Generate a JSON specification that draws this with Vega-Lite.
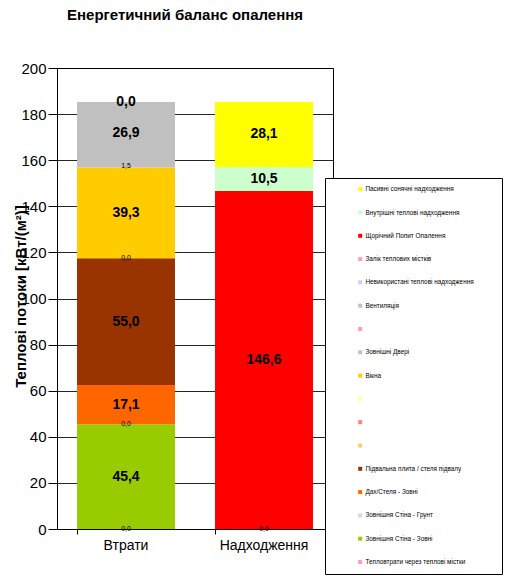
{
  "$schema": "https://vega.github.io/schema/vega-lite/v6.json",
  "autosize": {"type": "none"},
  "padding": {"left": 57, "top": 68, "right": 185, "bottom": 50},
  "width": 276,
  "height": 461,
  "background": "white",
  "title": {
    "text": "Енергетичний баланс опалення",
    "anchor": "start",
    "frame": "group",
    "dx": 10,
    "offset": 26,
    "baseline": "alphabetic",
    "font": "Liberation Sans",
    "fontSize": 15,
    "fontWeight": "bold",
    "color": "black"
  },
  "config": {
    "locale": {"number": {"decimal": ",", "thousands": " ", "grouping": [3], "currency": ["", ""]}},
    "view": {"stroke": "black", "strokeWidth": 1},
    "font": "Liberation Sans"
  },
  "data": {
    "values": [
      {"group": "Втрати", "series": "Тепловтрати через теплові містки", "value": 0, "idx": 1},
      {"group": "Втрати", "series": "Зовнішня Стіна - Зовні", "value": 45.4, "idx": 2},
      {"group": "Втрати", "series": "Зовнішня Стіна - Грунт", "value": 0, "idx": 3},
      {"group": "Втрати", "series": "Дах/Стеля - Зовні", "value": 17.1, "idx": 4},
      {"group": "Втрати", "series": "Підвальна плита / стеля підвалу", "value": 55.0, "idx": 5},
      {"group": "Втрати", "series": "~3", "value": 0, "idx": 6},
      {"group": "Втрати", "series": "Вікна", "value": 39.3, "idx": 9},
      {"group": "Втрати", "series": "Зовнішні Двері", "value": 1.5, "idx": 10},
      {"group": "Втрати", "series": "Вентиляція", "value": 26.9, "idx": 12},
      {"group": "Втрати", "series": "Невикористані теплові надходження", "value": 0, "idx": 13},
      {"group": "Надходження", "series": "Залік теплових містків", "value": 0, "idx": 14},
      {"group": "Надходження", "series": "Щорічний Попит Опалення", "value": 146.6, "idx": 15},
      {"group": "Надходження", "series": "Внутрішні теплові надходження", "value": 10.5, "idx": 16},
      {"group": "Надходження", "series": "Пасивні сонячні надходження", "value": 28.1, "idx": 17}
    ]
  },
  "encoding": {
    "x": {
      "field": "group",
      "type": "nominal",
      "sort": ["Втрати", "Надходження"],
      "title": null,
      "scale": {"paddingInner": 0.29, "paddingOuter": 0.145},
      "axis": {
        "labelAngle": 0,
        "labelFont": "Liberation Sans",
        "labelFontSize": 14,
        "labelColor": "black",
        "labelPadding": 4,
        "tickSize": 5,
        "tickColor": "black",
        "domainColor": "black",
        "bandPosition": 0
      }
    },
    "y": {
      "field": "value",
      "type": "quantitative",
      "stack": "zero",
      "scale": {"domain": [0, 200]},
      "title": "Теплові потоки [кВт/(м²)]",
      "axis": {
        "values": [0, 20, 40, 60, 80, 100, 120, 140, 160, 180, 200],
        "labelFont": "Liberation Sans",
        "labelFontSize": 15,
        "labelColor": "black",
        "labelPadding": 2,
        "tickSize": 9,
        "tickColor": "black",
        "domainColor": "black",
        "gridColor": "black",
        "gridOpacity": 0.85,
        "titleFont": "Liberation Sans",
        "titleFontSize": 15,
        "titleFontWeight": "bold",
        "titleColor": "black",
        "titleX": -37,
        "titleY": 228,
        "titleAlign": "center",
        "titleBaseline": "middle"
      }
    },
    "order": {"field": "idx", "type": "quantitative"}
  },
  "layer": [
    {
      "mark": {"type": "bar"},
      "encoding": {
        "color": {
          "field": "series",
          "type": "nominal",
          "scale": {
            "domain": [
              "Пасивні сонячні надходження",
              "Внутрішні теплові надходження",
              "Щорічний Попит Опалення",
              "Залік теплових містків",
              "Невикористані теплові надходження",
              "Вентиляція",
              "~1",
              "Зовнішні Двері",
              "Вікна",
              "~2",
              "~4",
              "~3",
              "Підвальна плита / стеля підвалу",
              "Дах/Стеля - Зовні",
              "Зовнішня Стіна - Грунт",
              "Зовнішня Стіна - Зовні",
              "Тепловтрати через теплові містки"
            ],
            "range": [
              "#FFFF00",
              "#CCFFCC",
              "#FF0000",
              "#FF99CC",
              "#CCCCFF",
              "#C0C0C0",
              "#FF99CC",
              "#C0C0C0",
              "#FFCC00",
              "#FFFF99",
              "#FF8080",
              "#FFCC66",
              "#993300",
              "#FF6600",
              "#D9D9D9",
              "#99CC00",
              "#FF99CC"
            ]
          },
          "legend": {
            "orient": "none",
            "legendX": 268,
            "legendY": 110,
            "title": ".",
            "titleOrient": "right",
            "titleColor": "white",
            "titleFontSize": 6,
            "titlePadding": 18,
            "padding": 8,
            "strokeColor": "black",
            "fillColor": "white",
            "symbolType": "square",
            "symbolSize": 16,
            "symbolStrokeWidth": 0,
            "symbolOffset": 24,
            "labelOffset": 2,
            "labelFont": "Liberation Sans",
            "labelFontSize": 6.4,
            "labelColor": "black",
            "labelLimit": 300,
            "rowPadding": 16.3,
            "labelExpr": "indexof(datum.label, '~') == 0 ? '' : datum.label"
          }
        }
      }
    },
    {
      "mark": {"type": "text", "font": "Liberation Sans", "fontSize": 14, "fontWeight": "bold", "color": "black", "baseline": "middle"},
      "encoding": {
        "y": {"field": "value", "type": "quantitative", "stack": "zero", "bandPosition": 0.5},
        "detail": {"field": "series"},
        "text": {
          "condition": {"test": "datum.value >= 5 || datum.series == 'Невикористані теплові надходження'", "field": "value", "type": "quantitative", "format": ".1f"},
          "value": ""
        }
      }
    },
    {
      "mark": {"type": "text", "font": "Liberation Sans", "fontSize": 7, "color": "black", "baseline": "middle"},
      "encoding": {
        "y": {"field": "value", "type": "quantitative", "stack": "zero", "bandPosition": 0.5},
        "detail": {"field": "series"},
        "text": {
          "condition": {"test": "!(datum.value >= 5 || datum.series == 'Невикористані теплові надходження')", "field": "value", "type": "quantitative", "format": ".1f"},
          "value": ""
        }
      }
    }
  ]
}
